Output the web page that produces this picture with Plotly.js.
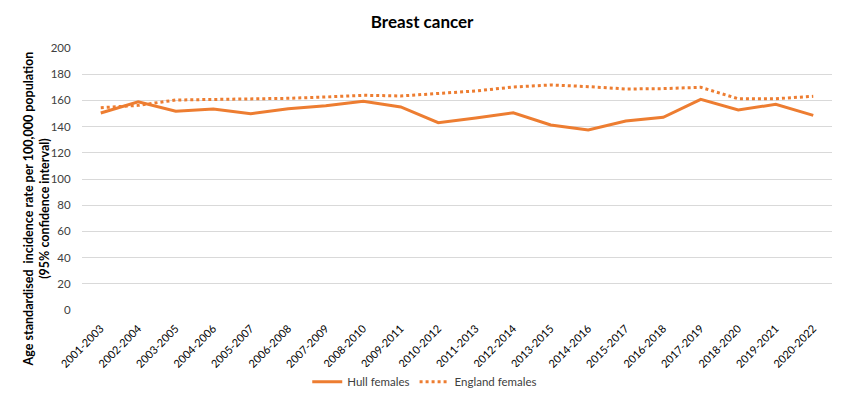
<!DOCTYPE html>
<html>
<head>
<meta charset="utf-8">
<script src="https://cdn.plot.ly/plotly-3.0.1.min.js"></script>
<style>
  html, body { margin: 0; padding: 0; background: #fff; }
  #chart { width: 846px; height: 404px; }
</style>
</head>
<body>
<div id="chart"></div>
<script>
// ─── Data ─────────────────────────────────────────────────────────────────────
const periods = [
  '2001-2003', '2002-2004', '2003-2005', '2004-2006', '2005-2007',
  '2006-2008', '2007-2009', '2008-2010', '2009-2011', '2010-2012',
  '2011-2013', '2012-2014', '2013-2015', '2014-2016', '2015-2017',
  '2016-2018', '2017-2019', '2018-2020', '2019-2021', '2020-2022'
];

const hullFemales = [
  150.4, 159.0, 151.7, 153.4, 149.9, 153.7, 156.0, 159.3, 155.0, 143.0,
  146.5, 150.6, 141.2, 137.4, 144.3, 147.1, 160.8, 152.7, 157.0, 148.6
];

const englandFemales = [
  154.4, 156.2, 160.3, 160.8, 161.0, 161.6, 162.6, 163.9, 163.4, 165.4,
  167.2, 170.2, 171.8, 170.5, 168.7, 169.0, 170.0, 161.3, 161.3, 163.1
];

const yTicks = [0, 20, 40, 60, 80, 100, 120, 140, 160, 180, 200];

// ─── Chart ────────────────────────────────────────────────────────────────────
const ORANGE = '#ED7D31';
const FONT   = 'Lato, "Open Sans", sans-serif';

const traces = [
  {
    x: periods,
    y: hullFemales,
    type: 'scatter',
    mode: 'lines',
    name: 'Hull females',
    line: { color: ORANGE, width: 3 },
  },
  {
    x: periods,
    y: englandFemales,
    type: 'scatter',
    mode: 'lines',
    name: 'England females',
    line: { color: ORANGE, width: 3, dash: 'dot' },
  },
];

const layout = {
  width: 846,
  height: 404,
  paper_bgcolor: '#fff',
  plot_bgcolor:  '#fff',
  font: { family: FONT, size: 11, color: '#404040' },
  margin: { t: 48, b: 94, l: 82, r: 14 },
  title: {
    text: '<b>Breast cancer</b>',
    font: { family: FONT, size: 17, color: '#000' },
    x: 0.499,
    xanchor: 'center',
    y: 0.945,
    yanchor: 'middle',
  },
  xaxis: {
    type: 'category',
    automargin: false,
    tickangle: -45,
    showgrid: false,
    zeroline: false,
    showline: false,
    ticks: 'outside',
    ticklen: 7,
    tickcolor: 'rgba(0,0,0,0)',
    tickfont: { family: FONT, size: 11, color: '#000' },
    range: [-0.5, periods.length - 0.5],
  },
  yaxis: {
    automargin: false,
    range: [0, 200],
    tickvals: yTicks,
    ticktext: yTicks.map(String),
    gridcolor: '#d9d9d9',
    gridwidth: 1,
    zeroline: false,
    showline: false,
    ticks: 'outside',
    ticklen: 8,
    tickcolor: 'rgba(0,0,0,0)',
    tickfont: { family: FONT, size: 11.5, color: '#404040' },
  },
  // y-axis title sits lower than the plot centre in the original, so draw it as an annotation
  annotations: [{
    text: '<b>Age standardised  incidence rate per 100,000 population<br>(95% confidence interval)</b>',
    xref: 'paper',
    yref: 'paper',
    x: -0.061,
    y: 0.385,
    xanchor: 'center',
    yanchor: 'middle',
    textangle: -90,
    showarrow: false,
    font: { family: FONT, size: 12.5, color: '#000' },
  }],
  showlegend: true,
  legend: {
    orientation: 'h',
    x: 0.457,
    xanchor: 'center',
    yref: 'container',
    y: 0.055,
    yanchor: 'middle',
    font: { family: FONT, size: 11.5, color: '#404040' },
  },
};

Plotly.newPlot('chart', traces, layout, { displayModeBar: false, staticPlot: true });
</script>
</body>
</html>
